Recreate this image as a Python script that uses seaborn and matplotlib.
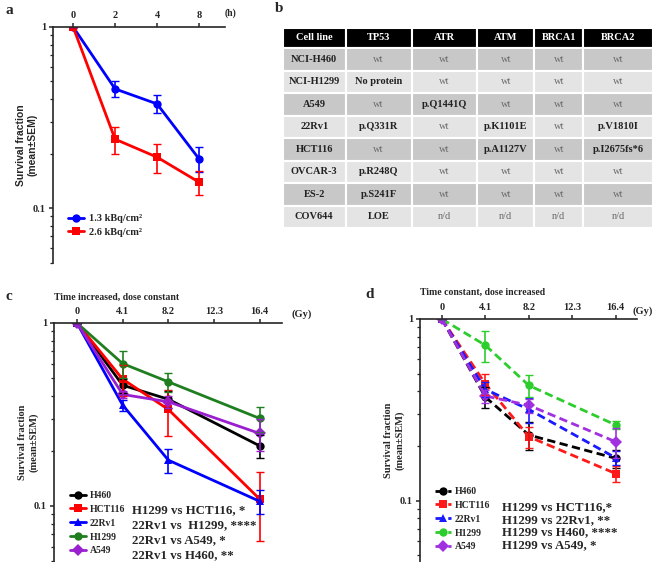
import numpy as np
import pandas as pd
import seaborn as sns
import matplotlib.pyplot as plt
from matplotlib.ticker import LogLocator, NullFormatter
from matplotlib.lines import Line2D

# panel a : survival vs time (h)
time_labels = ["0", "2", "4", "8"]
sf_13 = [1.0, 0.455, 0.376, 0.187]
sem_13 = [0.0, 0.045, 0.043, 0.029]
sf_26 = [1.0, 0.240, 0.191, 0.139]
sem_26 = [0.0, 0.040, 0.035, 0.021]

# panel b : mutation table
table_header = ["Cell line", "TP53", "ATR", "ATM", "BRCA1", "BRCA2"]
table_rows = [
    ["NCI-H460", "wt", "wt", "wt", "wt", "wt"],
    ["NCI-H1299", "No protein", "wt", "wt", "wt", "wt"],
    ["A549", "wt", "p.Q1441Q", "wt", "wt", "wt"],
    ["22Rv1", "p.Q331R", "wt", "p.K1101E", "wt", "p.V1810I"],
    ["HCT116", "wt", "wt", "p.A1127V", "wt", "p.I2675fs*6"],
    ["OVCAR-3", "p.R248Q", "wt", "wt", "wt", "wt"],
    ["ES-2", "p.S241F", "wt", "wt", "wt", "wt"],
    ["COV644", "LOE", "n/d", "n/d", "n/d", "n/d"],
]

# panels c and d : survival vs dose (Gy)
doses = [0, 4.1, 8.2, 16.4]
cell_lines = ["H460", "HCT116", "22Rv1", "H1299", "A549"]

sf_c = {
    "H460": [1.0, 0.457, 0.383, 0.213],
    "HCT116": [1.0, 0.493, 0.337, 0.109],
    "22Rv1": [1.0, 0.356, 0.178, 0.106],
    "H1299": [1.0, 0.600, 0.477, 0.301],
    "A549": [1.0, 0.407, 0.371, 0.249],
}
sem_c = {
    "H460": [0.0, 0.040, 0.040, 0.030],
    "HCT116": [0.0, 0.095, 0.095, 0.045],
    "22Rv1": [0.0, 0.025, 0.027, 0.016],
    "H1299": [0.0, 0.100, 0.055, 0.048],
    "A549": [0.0, 0.020, 0.030, 0.050],
}
sf_d = {
    "H460": [1.0, 0.372, 0.230, 0.171],
    "HCT116": [1.0, 0.440, 0.225, 0.141],
    "22Rv1": [1.0, 0.410, 0.318, 0.172],
    "H1299": [1.0, 0.717, 0.431, 0.261],
    "A549": [1.0, 0.377, 0.335, 0.211],
}
sem_d = {
    "H460": [0.0, 0.050, 0.040, 0.020],
    "HCT116": [0.0, 0.060, 0.030, 0.014],
    "22Rv1": [0.0, 0.040, 0.050, 0.015],
    "H1299": [0.0, 0.140, 0.060, 0.012],
    "A549": [0.0, 0.030, 0.030, 0.040],
}
stats_c = ["H1299 vs HCT116, *", "22Rv1 vs  H1299, ****",
           "22Rv1 vs A549, *", "22Rv1 vs H460, **"]
stats_d = ["H1299 vs HCT116,*", "H1299 vs 22Rv1, **",
           "H1299 vs H460, ****", "H1299 vs A549, *"]

markers = {"H460": "o", "HCT116": "s", "22Rv1": "^", "H1299": "o", "A549": "D"}
colors_c = {"H460": "black", "HCT116": "#ff0000", "22Rv1": "#0000ff",
            "H1299": "#1f7f1f", "A549": "#9a1fd0"}
colors_d = {"H460": "black", "HCT116": "#ff1a1a", "22Rv1": "#1a1aff",
            "H1299": "#2ccd2c", "A549": "#a030e0"}

sns.set_style("ticks")
plt.rcParams["font.family"] = ["Liberation Serif", "DejaVu Serif"]
plt.rcParams["font.weight"] = "bold"
plt.rcParams["axes.linewidth"] = 1.2

W, H = 654, 562
fig = plt.figure(figsize=(W / 100, H / 100), dpi=100)


def px_axes(x0, y0, x1, y1):
    return fig.add_axes([x0 / W, 1 - y1 / H, (x1 - x0) / W, (y1 - y0) / H])


def style_axes(ax, ylim):
    ax.set_yscale("log")
    ax.set_ylim(*ylim)
    ax.xaxis.tick_top()
    ax.spines["bottom"].set_visible(False)
    ax.spines["right"].set_visible(False)
    ax.set_yticks([0.1, 1])
    ax.set_yticklabels(["0.1", "1"])
    ax.yaxis.set_minor_locator(LogLocator(base=10, subs=np.arange(2, 10)))
    ax.yaxis.set_minor_formatter(NullFormatter())
    ax.tick_params(axis="both", which="major", labelsize=7.5, length=3, width=1.1, pad=2)
    ax.tick_params(axis="y", which="minor", length=2, width=0.9)
    ax.set_xlabel("")
    for t in ax.get_xticklabels() + ax.get_yticklabels():
        t.set_fontweight("bold")


# ---------- panel a ----------
ax_a = px_axes(53, 27, 225, 263)
pos = np.arange(len(time_labels))
df_a = pd.DataFrame({
    "pos": np.concatenate([pos, pos]),
    "sf": sf_13 + sf_26,
    "dose": ["1.3 kBq/cm²"] * 4 + ["2.6 kBq/cm²"] * 4,
})
sns.lineplot(data=df_a, x="pos", y="sf", hue="dose", style="dose",
             palette=["#0000ff", "#ff0000"], markers=["o", "s"], dashes=False,
             lw=2, markersize=6, markeredgewidth=0, ax=ax_a, legend=False)
ax_a.errorbar(pos, sf_13, yerr=sem_13, fmt="none", ecolor="#0000ff", elinewidth=1.2, capsize=3)
ax_a.errorbar(pos, sf_26, yerr=sem_26, fmt="none", ecolor="#ff0000", elinewidth=1.2, capsize=3)
ax_a.set_xlim(-0.48, 3.62)
ax_a.set_xticks(pos)
ax_a.set_xticklabels(time_labels)
style_axes(ax_a, (0.0497, 1))
ax_a.set_ylabel("Survival fraction\n(mean±SEM)", family=["Liberation Sans", "DejaVu Sans"],
                fontsize=7.5, fontweight="bold", labelpad=-3)
ax_a.text(1.0, 1.04, "(h)", transform=ax_a.transAxes, fontsize=7, ha="left", va="bottom")
h_a = [Line2D([], [], color="#0000ff", marker="o", lw=2, ms=6, mew=0),
       Line2D([], [], color="#ff0000", marker="s", lw=2, ms=6, mew=0)]
ax_a.legend(h_a, ["1.3 kBq/cm²", "2.6 kBq/cm²"], loc="upper left",
            bbox_to_anchor=(68 / W, 1 - 214 / H), bbox_transform=fig.transFigure,
            frameon=False, handlelength=1.5, handletextpad=0.5,
            labelspacing=0.4, borderpad=0, borderaxespad=0, prop={"weight": "bold", "size": 7.5})

# ---------- panel b ----------
ax_b = px_axes(283, 28, 653, 228)
ax_b.axis("off")
col_w = [62.4, 66.0, 65.6, 57.0, 49.0, 69.4]
tbl = ax_b.table(cellText=table_rows, colLabels=table_header, colWidths=col_w,
                 cellLoc="center", bbox=[0, 0, 1, 1])
tbl.auto_set_font_size(False)
for (r, c), cell in tbl.get_celld().items():
    cell.set_edgecolor("white")
    cell.set_linewidth(1.5)
    txt = cell.get_text()
    txt.set_fontsize(7.5)
    if r == 0:
        cell.set_facecolor("black")
        cell.set_height(20)
        txt.set_color("white")
        txt.set_fontweight("bold")
        continue
    cell.set_height(22.5)
    cell.set_facecolor("#c8c8c8" if r % 2 == 1 else "#e4e4e4")
    if txt.get_text() in ("wt", "n/d"):
        txt.set_fontweight("normal")
        txt.set_color("#6a6a6a")
    else:
        txt.set_fontweight("bold")
        txt.set_color("#222222")


# ---------- panels c, d ----------
def dose_panel(box, sf, sem, colors, dashed, ylim, title, stats, leg_xy, stats_xy, stats_dy,
               gy_right=None):
    ax = px_axes(*box)
    df = pd.DataFrame([(cl, d, v) for cl in cell_lines for d, v in zip(doses, sf[cl])],
                      columns=["line", "dose", "sf"])
    sns.lineplot(data=df, x="dose", y="sf", hue="line", style="line",
                 palette=colors, markers=markers,
                 dashes={cl: ((3, 1.6) if dashed else "") for cl in cell_lines},
                 lw=2, markersize=6, markeredgewidth=0, ax=ax, legend=False)
    for cl in cell_lines:
        ax.errorbar(doses, sf[cl], yerr=sem[cl], fmt="none", ecolor=colors[cl],
                    elinewidth=1.2, capsize=3)
    ax.set_xlim(-2.06, 18.4)
    ax.set_xticks([0, 4.1, 8.2, 12.3, 16.4])
    ax.set_xticklabels(["0", "4.1", "8.2", "12.3", "16.4"])
    style_axes(ax, ylim)
    ax.set_ylabel("Survival fraction\n(mean±SEM)", fontsize=7.5, fontweight="bold", labelpad=-3)
    if gy_right is None:
        ax.text(1.04, 1.015, "(Gy)", transform=ax.transAxes, fontsize=7.5, ha="left", va="bottom")
    else:
        fig.text(gy_right / W, 1 - (box[1] - 3) / H, "(Gy)", fontsize=7.5, ha="right", va="bottom")
    ax.text(0.0, 1.09, title, transform=ax.transAxes, fontsize=7, ha="left", va="bottom")
    handles = [Line2D([], [], color=colors[cl], marker=markers[cl], lw=2, ms=6, mew=0,
                      ls=(0, (3, 1.6)) if dashed else "-") for cl in cell_lines]
    ax.legend(handles, cell_lines, loc="upper left", bbox_to_anchor=leg_xy,
              bbox_transform=fig.transFigure, frameon=False, handlelength=1.6,
              handletextpad=0.4, labelspacing=0.5, borderpad=0, borderaxespad=0,
              prop={"weight": "bold", "size": 7})
    for i, s in enumerate(stats):
        fig.text(stats_xy[0] / W, 1 - (stats_xy[1] + i * stats_dy) / H, s,
                 fontsize=9.3, fontweight="bold", va="center", ha="left")
    return ax


ax_c = dose_panel((54, 323, 282, 562), sf_c, sem_c, colors_c, False, (0.0494, 1),
                  "Time increased, dose constant", stats_c,
                  (70 / W, 1 - 491 / H), (132, 510), 15.2)
ax_d = dose_panel((420, 319, 637, 562), sf_d, sem_d, colors_d, True, (0.046, 1),
                  "Time constant, dose increased", stats_d,
                  (435 / W, 1 - 487 / H), (502, 507), 12.8, gy_right=653)

for lbl, x, y in [("a", 5, 10), ("b", 275, 8), ("c", 5, 297), ("d", 365, 295)]:
    fig.text(x / W, 1 - y / H, lbl, fontsize=11, fontweight="bold", va="center", ha="left")

fig.savefig("out.png", dpi=100)
